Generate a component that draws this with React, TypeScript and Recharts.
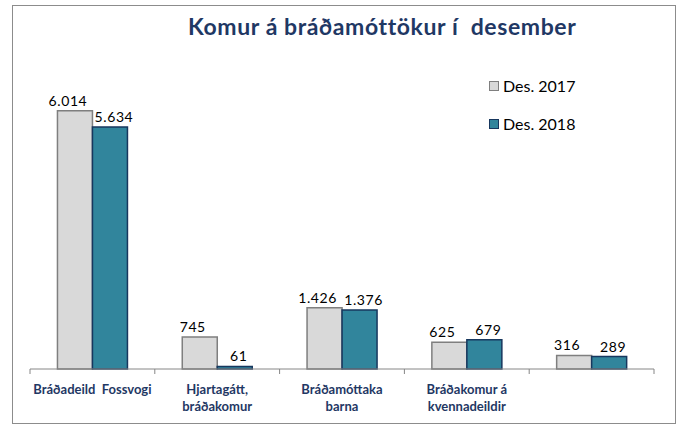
import { BarChart, Bar, XAxis, YAxis, LabelList } from "recharts";

const categories = [
  "Bráðadeild  Fossvogi",
  "Hjartagátt,\nbráðakomur",
  "Bráðamóttaka\nbarna",
  "Bráðakomur á\nkvennadeildir",
  "",
];
const des2017 = [6014, 745, 1426, 625, 316];
const des2018 = [5634, 61, 1376, 679, 289];
const seriesNames = ["Des. 2017", "Des. 2018"];

const data = categories.map((name, i) => ({
  name,
  y2017: des2017[i],
  y2018: des2018[i],
}));

const W = 684;
const H = 430;
const M = { top: 62, left: 30, right: 30, bottom: 11 };
const BAND = (W - M.left - M.right) / categories.length;
const FONT = "Lato, 'Open Sans', sans-serif";
const NAVY = "#1f3864";

const fmt = (v: any) => String(v).replace(/\B(?=(\d{3})+(?!\d))/g, ".");

function CatTick(props: any) {
  const { x, y, payload, index } = props;
  const lines = String(payload.value).split("\n");
  const last = index === categories.length - 1;
  return (
    <g>
      <line x1={x - BAND / 2} x2={x - BAND / 2} y1={y} y2={y + 5} stroke="#868686" />
      {last && <line x1={x + BAND / 2} x2={x + BAND / 2} y1={y} y2={y + 5} stroke="#868686" />}
      <text textAnchor="middle" fontSize={13} fontWeight={700} fill={NAVY} fontFamily={FONT} style={{ whiteSpace: "pre" }}>
        {lines.map((l, i) => (
          <tspan key={i} x={x} y={y + 25 + i * 17}>
            {l}
          </tspan>
        ))}
      </text>
    </g>
  );
}

export default function App() {
  return (
    <div style={{ position: "absolute", left: 0, top: 0, width: W, height: H, background: "#fff" }}>
      <div
        style={{
          position: "absolute",
          left: 12,
          top: 5,
          width: 664,
          height: 419,
          border: "1px solid #8c8c8c",
          boxSizing: "border-box",
        }}
      />
      <div
        style={{
          position: "absolute",
          left: 188,
          top: 12,
          fontFamily: FONT,
          fontWeight: 700,
          fontSize: 23,
          letterSpacing: 0.6,
          color: NAVY,
          whiteSpace: "pre",
        }}
      >
        Komur á bráðamóttökur í  desember
      </div>
      {seriesNames.map((s, i) => (
        <div
          key={s}
          style={{
            position: "absolute",
            left: 489,
            top: 76 + i * 38,
            fontFamily: FONT,
            fontSize: 16,
            color: "#000",
            display: "flex",
            alignItems: "center",
          }}
        >
          <span
            style={{
              display: "inline-block",
              width: 10,
              height: 10,
              marginRight: 4,
              boxSizing: "border-box",
              background: i === 0 ? "#d9d9d9" : "#31859c",
              border: `1.5px solid ${i === 0 ? "#7f7f7f" : "#17375e"}`,
            }}
          />
          {s}
        </div>
      ))}
      <div style={{ position: "absolute", left: 0, top: 0 }}>
        <BarChart width={W} height={H} data={data} margin={M} barCategoryGap="22%" barGap={0}>
          <XAxis
            dataKey="name"
            height={50}
            interval={0}
            tickSize={0}
            tickMargin={0}
            tickLine={false}
            axisLine={{ stroke: "#868686" }}
            tick={<CatTick />}
          />
          <XAxis xAxisId="top" dataKey="name" orientation="top" height={0} tick={false} tickLine={false} axisLine={{ stroke: "#d9d9d9" }} />
          <YAxis width={0} domain={[0, 7150]} tick={false} tickLine={false} axisLine={{ stroke: "#bfbfbf" }} />
          <YAxis yAxisId="r" orientation="right" width={0} domain={[0, 7150]} tick={false} tickLine={false} axisLine={{ stroke: "#d9d9d9" }} />
          <Bar dataKey="y2017" fill="#d9d9d9" stroke="#7f7f7f" strokeWidth={1.5} isAnimationActive={false}>
            <LabelList dataKey="y2017" position="top" offset={5} dx={-7} formatter={fmt} fontSize={14} letterSpacing={0.6} fill="#000" fontFamily={FONT} />
          </Bar>
          <Bar dataKey="y2018" fill="#31859c" stroke="#17375e" strokeWidth={1.5} isAnimationActive={false}>
            <LabelList dataKey="y2018" position="top" offset={5} dx={4} formatter={fmt} fontSize={14} letterSpacing={0.6} fill="#000" fontFamily={FONT} />
          </Bar>
        </BarChart>
      </div>
    </div>
  );
}
